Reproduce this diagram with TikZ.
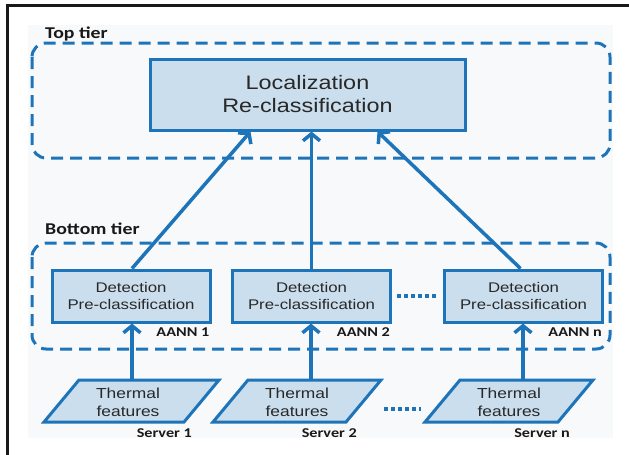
\documentclass[tikz,border=0pt]{standalone}
\usepackage{fontspec}
\setmainfont[FakeStretch=1.2]{Liberation Sans}
\newfontfamily\lblfont[FakeStretch=1.2]{Carlito}
\usetikzlibrary{arrows.meta,calc}
\definecolor{edgeblue}{RGB}{30,116,184}
\definecolor{boxfill}{RGB}{202,222,238}
\definecolor{bgtint}{RGB}{248,249,251}
\definecolor{txt}{RGB}{40,40,40}
\definecolor{lbl}{RGB}{25,25,25}
\begin{document}
\begin{tikzpicture}[x=1pt,y=-1pt,
  tierbox/.style={draw=edgeblue, line width=3pt, dash pattern=on 12pt off 7pt, rounded corners=14pt},
  procbox/.style={draw=edgeblue, fill=boxfill, line width=3pt, inner sep=0pt, align=center, text=txt},
  paratext/.style={inner sep=0pt, align=center, text=txt, font=\fontsize{14.5}{18}\selectfont},
  parabox/.style={draw=edgeblue, fill=boxfill, line width=3pt, line join=miter},
  link/.style={draw=edgeblue, line width=3.5pt, -{Straight Barb[length=7pt,width=17pt]}},
  dotline/.style={draw=edgeblue, line width=4pt, dash pattern=on 4pt off 3pt},
  tierlabel/.style={anchor=west, inner sep=0pt, text=lbl, font=\lblfont\bfseries\fontsize{16.5}{19}\selectfont},
  smalllabel/.style={anchor=east, inner sep=0pt, text=lbl, font=\lblfont\bfseries\fontsize{13.5}{16}\selectfont},
  frameline/.style={draw=black!90, line width=3pt}
]
\useasboundingbox (0,0) rectangle (629,455);
\fill[bgtint] (28,25) rectangle (613,438);
\draw[frameline] (6,5.5) -- (629,5.5);
\draw[frameline] (7.5,4) -- (7.5,455);

% tiers
\node[tierlabel] (toplbl) at (45,34) {Top tier};
\draw[tierbox] (32,43) rectangle (610,158);
\node[tierlabel] (botlbl) at (45,229) {Bottom tier};
\draw[tierbox] (32,243) rectangle (610,349);

% top box
\node[procbox, minimum width=315pt, minimum height=71pt,
      font=\fontsize{19.5}{23}\selectfont] (loc) at (307.5,94.5) {Localization\\Re-classification};

% detection boxes
\foreach \n/\x in {d1/131, d2/311.5, dn/523.5}{
  \node[procbox, minimum width=158pt, minimum height=52pt,
        font=\fontsize{14}{17}\selectfont] (\n) at (\x,296) {Detection\\Pre-classification};
}
\node[smalllabel] (a1) at ([xshift=-2pt,yshift=-9pt]d1.south east) {AANN 1};
\node[smalllabel] (a2) at ([xshift=-2pt,yshift=-9pt]d2.south east) {AANN 2};
\node[smalllabel] (an) at ([xshift=-2pt,yshift=-9pt]dn.south east) {AANN n};
\draw[dotline] ([xshift=5pt]d2.east) -- ([xshift=-7pt]dn.west);

% parallelograms
\foreach \n/\x/\w in {p1/128/140, p2/297/133, pn/509/133}{
  \draw[parabox] ($(\x,401)+(-49,-21)$) -- ++(\w,0) -- ++(-35,42) -- ++(-\w,0) -- cycle;
  \node[paratext] (\n) at (\x,402) {Thermal\\features};
}
\node[smalllabel] (s1) at (192,433) {Server 1};
\node[smalllabel] (s2) at (357,433) {Server 2};
\node[smalllabel] (sn) at (570,433) {Server n};
\draw[dotline] ($(p2)+(87,7)$) coordinate (dl) -- ($(pn)+(-88,7)$) coordinate (dr);

% arrows from servers
\coordinate (p1top) at ($(p1)+(4,-22)$);
\coordinate (p2top) at ($(p2)+(14,-22)$);
\coordinate (pntop) at ($(pn)+(14,-22)$);
\draw[link] (p1top) -- (p1top |- d1.south);
\draw[link] (p2top) -- (p2top |- d2.south);
\draw[link] (pntop) -- (pntop |- dn.south);

% arrows to top tier
\draw[link] ([xshift=1pt]d1.north) -- ([xshift=-57pt]loc.south);
\draw[link] (d2.north) -- (d2.north |- loc.south);
\draw[link] ([xshift=-3pt]dn.north) -- ([xshift=70pt]loc.south);
\end{tikzpicture}
\end{document}
